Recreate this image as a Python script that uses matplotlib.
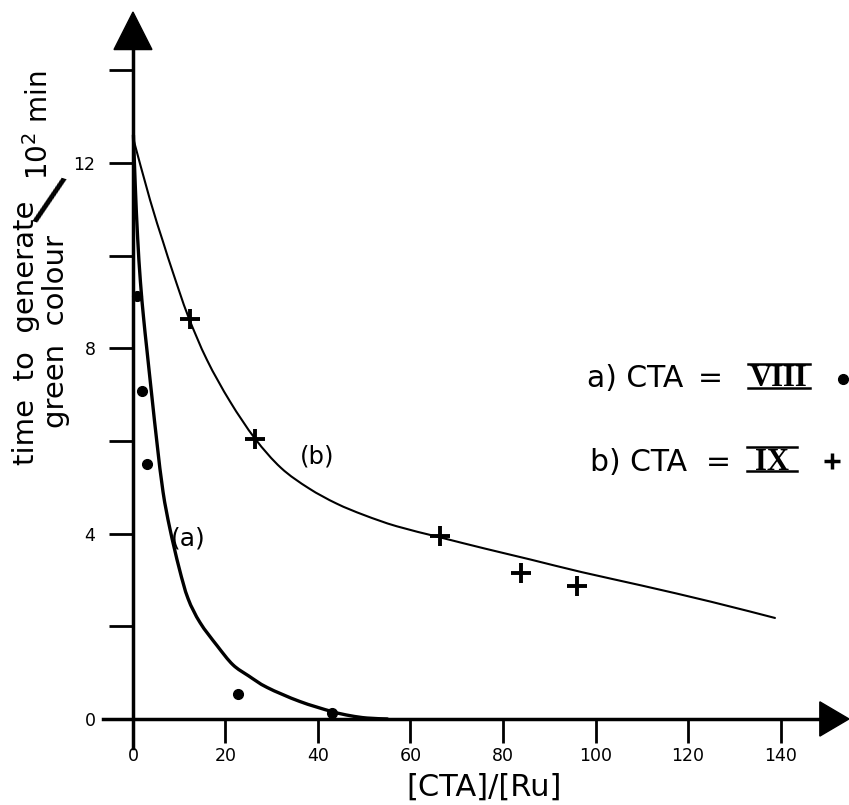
import matplotlib
matplotlib.use('Agg')
import matplotlib.pyplot as plt
from matplotlib.patches import Polygon, PathPatch
from matplotlib.path import Path
from matplotlib.lines import Line2D

# --- data ---
# series (a): CTA = VIII, dots
a_x = [0.8, 2.0, 3.0, 22.7, 43.0]
a_y = [9.13, 7.08, 5.5, 0.54, 0.13]
# fitted curve (a)
a_curve_x = [0.1, 0.5, 1.0, 1.6, 2.3, 3.0, 4.1, 5.2, 6.5, 8.0, 10.0, 11.9,
             14.5, 18.2, 21.6, 25.0, 29.0, 36.0, 43.0, 47.0, 50.6, 55.0]
a_curve_y = [12.6, 11.5, 10.4, 9.45, 8.65, 7.98, 6.95, 5.95, 4.9, 4.1, 3.25, 2.6,
             2.08, 1.58, 1.17, 0.93, 0.68, 0.38, 0.16, 0.07, 0.02, 0.0]

# series (b): CTA = IX, crosses
b_x = [12.3, 26.4, 66.4, 83.9, 96.0]
b_y = [8.64, 6.04, 3.94, 3.16, 2.86]
# fitted curve (b)
b_curve_x = [0.0, 3.7, 6.5, 8.7, 11.9, 16.0, 21.0, 26.4, 32.0, 38.0, 44.0, 50.0,
             57.0, 66.4, 76.0, 86.0, 97.0, 110.0, 125.0, 138.8]
b_curve_y = [12.55, 11.2, 10.3, 9.62, 8.7, 7.75, 6.85, 6.05, 5.42, 4.98, 4.65, 4.4,
             4.16, 3.92, 3.68, 3.44, 3.17, 2.88, 2.53, 2.18]

x_ticks = [0, 20, 40, 60, 80, 100, 120, 140]
x_labels = ['0', '20', '40', '60', '80', '100', '120', '140']
y_ticks = [0, 2, 4, 6, 8, 10, 12, 14]
y_labels = ['0', '', '4', '', '8', '', '12', '']

W, H = 849, 805


def fx(px):
    return px / W


def fy(py):
    return 1 - py / H


def smooth_path(xs, ys):
    # Catmull-Rom through the read points, drawn as cubic bezier segments
    pts = list(zip(xs, ys))
    verts = [pts[0]]
    codes = [Path.MOVETO]
    n = len(pts)
    for i in range(n - 1):
        p0 = pts[i - 1] if i > 0 else pts[i]
        p1 = pts[i]
        p2 = pts[i + 1]
        p3 = pts[i + 2] if i + 2 < n else pts[i + 1]
        c1 = (p1[0] + (p2[0] - p0[0]) / 6, p1[1] + (p2[1] - p0[1]) / 6)
        c2 = (p2[0] - (p3[0] - p1[0]) / 6, p2[1] - (p3[1] - p1[1]) / 6)
        verts += [c1, c2, p2]
        codes += [Path.CURVE4] * 3
    return Path(verts, codes)


fig = plt.figure(figsize=(W / 100, H / 100), dpi=100)
ax = fig.add_axes([100.6 / W, (H - 753.7) / H, (849.9 - 100.6) / W, (753.7 - 0.9) / H])
ax.set_xlim(-7, 155)
ax.set_ylim(-0.75, 15.5)
ax.patch.set_alpha(0)

# axes with arrows
for s in ['top', 'right']:
    ax.spines[s].set_visible(False)
ax.spines['left'].set_position(('data', 0))
ax.spines['bottom'].set_position(('data', 0))
ax.spines['left'].set_bounds(-0.63, 14.6)
ax.spines['bottom'].set_bounds(-6.5, 149)
ax.spines['left'].set_linewidth(2.5)
ax.spines['bottom'].set_linewidth(2.5)
ax.add_patch(Polygon([(-4.1, 14.45), (4.1, 14.45), (0, 15.26)], closed=True,
                     color='black', clip_on=False))
ax.add_patch(Polygon([(148.5, -0.37), (148.5, 0.37), (154.8, 0)], closed=True,
                     color='black', clip_on=False))

ax.set_xticks(x_ticks)
ax.set_xticklabels(x_labels)
ax.set_yticks(y_ticks)
ax.set_yticklabels(y_labels)
ax.tick_params(axis='x', direction='out', length=17, width=2, labelsize=12.5, pad=3)
ax.tick_params(axis='y', direction='out', length=17, width=2, labelsize=12.5, pad=10)

# curves and points
ax.add_patch(PathPatch(smooth_path(a_curve_x, a_curve_y), fill=False,
                       edgecolor='black', lw=2.4, capstyle='round'))
ax.add_patch(PathPatch(smooth_path(b_curve_x, b_curve_y), fill=False,
                       edgecolor='black', lw=1.5, capstyle='round'))
ax.plot(a_x, a_y, 'o', color='black', ms=7)
ax.plot(b_x, b_y, '+', color='black', ms=15, mew=2.8)

ax.text(11.9, 3.9, '(a)', fontsize=18, ha='center', va='center')
ax.text(39.8, 5.67, '(b)', fontsize=17.5, ha='center', va='center')

# axis labels
fig.text(fx(484), fy(787), '[CTA]/[Ru]', fontsize=22, ha='center', va='center')
fig.text(fx(26), fy(465), 'time  to  generate', fontsize=21, rotation=90,
         ha='center', va='bottom')
fig.text(fx(56), fy(428), 'green  colour', fontsize=21, rotation=90,
         ha='center', va='bottom')
fig.text(fx(48), fy(202), '/', fontsize=44, rotation=-17, ha='center', va='center')
fig.text(fx(39), fy(180), r'10$^2$ min', fontsize=20, rotation=90,
         ha='center', va='bottom')

# legend
fig.text(fx(587), fy(387), 'a) CTA', fontsize=21.5, ha='left', va='baseline')
fig.text(fx(710), fy(387), '=', fontsize=21.5, ha='center', va='baseline')
fig.text(fx(779), fy(386), 'VIII', fontsize=22, family='Liberation Serif',
         weight='bold', ha='center', va='baseline')
fig.add_artist(Line2D([fx(748), fx(810)], [fy(364), fy(364)], color='black', lw=1.8))
fig.add_artist(Line2D([fx(748), fx(810)], [fy(388), fy(388)], color='black', lw=1.8))
fig.add_artist(Line2D([fx(843)], [fy(379)], marker='o', color='black', ms=7))

fig.text(fx(590), fy(471), 'b) CTA', fontsize=21.5, ha='left', va='baseline')
fig.text(fx(718), fy(471), '=', fontsize=21.5, ha='center', va='baseline')
fig.text(fx(772), fy(470), 'IX', fontsize=22, family='Liberation Serif',
         weight='bold', ha='center', va='baseline')
fig.add_artist(Line2D([fx(747), fx(797)], [fy(447), fy(447)], color='black', lw=1.8))
fig.add_artist(Line2D([fx(747), fx(797)], [fy(471), fy(471)], color='black', lw=1.8))
fig.add_artist(Line2D([fx(832)], [fy(461)], marker='+', color='black', ms=11, mew=2.5))

fig.savefig('out.png', dpi=100)
